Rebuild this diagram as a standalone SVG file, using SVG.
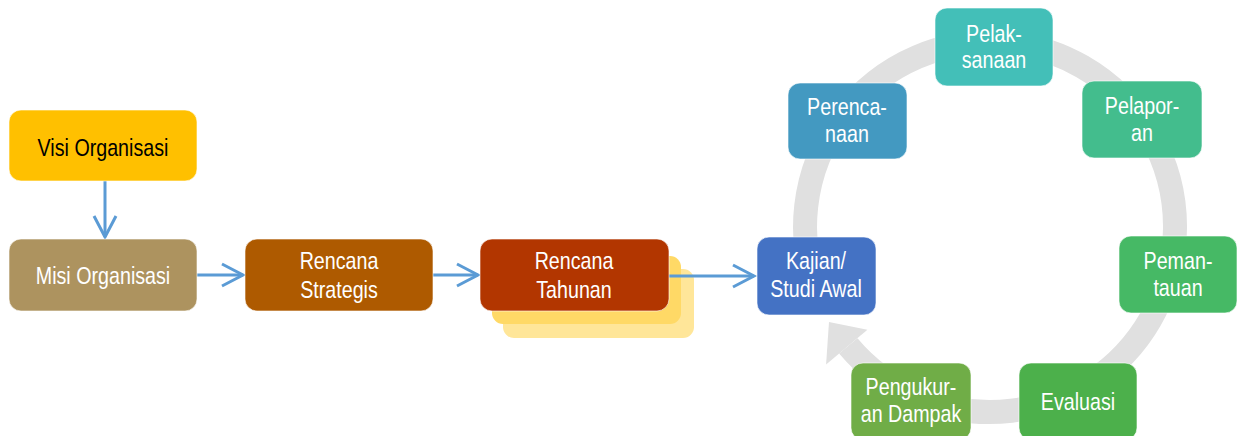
<svg xmlns="http://www.w3.org/2000/svg" width="1240" height="436" viewBox="0 0 1240 436">
  <style>
    .box { stroke: #ffffff; stroke-width: 1; stroke-opacity: 0.6; }
    .lbl { font-family: "Liberation Sans", Arial, sans-serif; font-size: 24px; fill: #ffffff; text-anchor: middle; }
    .dark { fill: #000000; }
    .flow { fill: none; stroke: #5B9BD5; stroke-width: 3; }
    .ring { fill: none; stroke: #E0E0E0; stroke-width: 24; }
  </style>
  <defs>
    <marker id="chev" markerUnits="userSpaceOnUse" viewBox="0 0 30 30" markerWidth="30" markerHeight="30" refX="23" refY="12" orient="auto" overflow="visible">
      <path d="M2,1 L23,12 L2,23" fill="none" stroke="#5B9BD5" stroke-width="3"/>
    </marker>
  </defs>

  <rect width="1240" height="436" fill="#ffffff"/>

  <!-- stacked sheets behind the annual plan -->
  <g id="tahunan-sheets">
    <rect x="503" y="269" width="191" height="69" rx="11" fill="#FFE699"/>
    <rect x="492" y="256" width="189" height="68" rx="11" fill="#FFD966"/>
  </g>

  <g id="connectors">
    <!-- cycle ring with its arrowhead -->
    <path class="ring" d="M816.2,290.3 A185,185 0 1 1 848.3,345.9"/>
    <polygon points="867.4,329.8 829,322 826.1,364.6" fill="#E0E0E0"/>
    <path class="flow" d="M105,181 V237" marker-end="url(#chev)"/>
    <path class="flow" d="M197,275 H243" marker-end="url(#chev)"/>
    <path class="flow" d="M433,275 H478" marker-end="url(#chev)"/>
    <path class="flow" d="M669,276 H754" marker-end="url(#chev)"/>
  </g>

  <!-- labels are condensed horizontally: translate to the anchor, then scale x -->
  <g id="visi">
    <rect class="box" x="9" y="110" width="188" height="71" rx="12" fill="#FFC000"/>
    <text class="lbl dark" transform="translate(103 156) scale(0.82 1)">Visi Organisasi</text>
  </g>
  <g id="misi">
    <rect class="box" x="9" y="239" width="188" height="72" rx="12" fill="#AD935F"/>
    <text class="lbl" transform="translate(103 284) scale(0.82 1)">Misi Organisasi</text>
  </g>
  <g id="strategis">
    <rect class="box" x="245" y="239" width="188" height="72" rx="12" fill="#AE5A00"/>
    <text class="lbl" transform="translate(339 269) scale(0.82 1)">Rencana</text>
    <text class="lbl" transform="translate(339 298) scale(0.82 1)">Strategis</text>
  </g>
  <g id="tahunan">
    <rect class="box" x="480" y="239" width="189" height="72" rx="12" fill="#B23600"/>
    <text class="lbl" transform="translate(574 269) scale(0.82 1)">Rencana</text>
    <text class="lbl" transform="translate(574 298) scale(0.82 1)">Tahunan</text>
  </g>
  <g id="kajian">
    <rect class="box" x="757" y="237" width="119" height="78" rx="12" fill="#4472C4"/>
    <text class="lbl" transform="translate(816 269) scale(0.82 1)">Kajian/</text>
    <text class="lbl" transform="translate(816 297) scale(0.82 1)">Studi Awal</text>
  </g>
  <g id="perencanaan">
    <rect class="box" x="788" y="83" width="119" height="76" rx="12" fill="#4399C1"/>
    <text class="lbl" transform="translate(847 115) scale(0.82 1)">Perenca-</text>
    <text class="lbl" transform="translate(847 142) scale(0.82 1)">naan</text>
  </g>
  <g id="pelaksanaan">
    <rect class="box" x="935" y="8" width="118" height="78" rx="12" fill="#43BFB8"/>
    <text class="lbl" transform="translate(994 42) scale(0.82 1)">Pelak-</text>
    <text class="lbl" transform="translate(994 68) scale(0.82 1)">sanaan</text>
  </g>
  <g id="pelaporan">
    <rect class="box" x="1082" y="81" width="120" height="77" rx="12" fill="#43BD8D"/>
    <text class="lbl" transform="translate(1142 114) scale(0.82 1)">Pelapor-</text>
    <text class="lbl" transform="translate(1142 141) scale(0.82 1)">an</text>
  </g>
  <g id="pemantauan">
    <rect class="box" x="1119" y="236" width="118" height="77" rx="12" fill="#46B965"/>
    <text class="lbl" transform="translate(1178 269) scale(0.82 1)">Peman-</text>
    <text class="lbl" transform="translate(1178 296) scale(0.82 1)">tauan</text>
  </g>
  <g id="evaluasi">
    <rect class="box" x="1019" y="363" width="118" height="77" rx="12" fill="#4CB04B"/>
    <text class="lbl" transform="translate(1078 410) scale(0.82 1)">Evaluasi</text>
  </g>
  <g id="pengukuran">
    <rect class="box" x="851" y="363" width="120" height="77" rx="12" fill="#70AD47"/>
    <text class="lbl" transform="translate(911 395) scale(0.82 1)">Pengukur-</text>
    <text class="lbl" transform="translate(911 422) scale(0.82 1)">an Dampak</text>
  </g>
</svg>
